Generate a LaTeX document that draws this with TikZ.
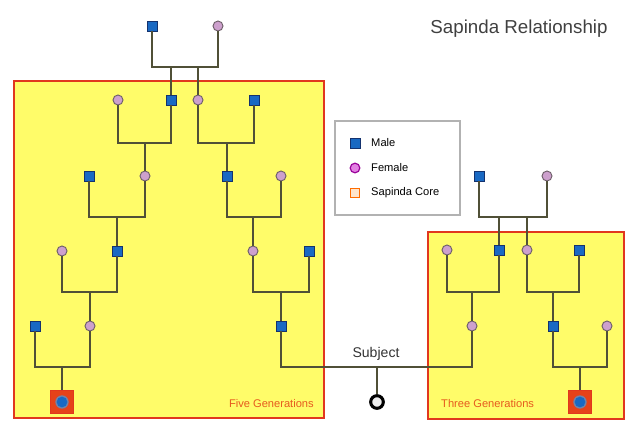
\documentclass[tikz,border=0pt]{standalone}
\usepackage{fontspec}
\setmainfont{Liberation Sans}
\usepackage{xcolor}
\usetikzlibrary{positioning}
\definecolor{boxyellow}{RGB}{255,252,105}
\definecolor{boxred}{RGB}{225,55,30}
\definecolor{maleblue}{RGB}{25,105,195}
\definecolor{maleedge}{RGB}{20,50,110}
\definecolor{femalepink}{RGB}{205,160,205}
\definecolor{femaleedge}{RGB}{110,95,105}
\definecolor{linkgray}{RGB}{80,80,55}
\definecolor{genorange}{RGB}{230,90,30}

\begin{document}
\begin{tikzpicture}[
    x=0.03cm, y=-0.03cm,
    male/.style={rectangle, draw=maleedge, fill=maleblue, line width=0.5pt, minimum size=0.29cm, inner sep=0pt},
    female/.style={circle, draw=femaleedge, fill=femalepink, line width=0.8pt, minimum size=0.3cm, inner sep=0pt},
    core/.style={rectangle, draw=boxred, fill=boxred!85!orange, line width=0.8pt, minimum size=0.68cm, inner sep=0pt,
                 path picture={\fill[maleedge!60] (path picture bounding box.center) circle (0.2cm);
                               \fill[maleblue] (path picture bounding box.center) circle (0.16cm);}},
    subject/.style={circle, draw=black, fill=gray!15, line width=2.6pt, minimum size=0.38cm, inner sep=0pt},
    gen/.style={rectangle, draw=boxred, fill=boxyellow, line width=1.6pt},
    genlabel/.style={font=\fontsize{9.5}{11}\selectfont, text=genorange, inner sep=0pt},
    keytext/.style={font=\fontsize{9.5}{11}\selectfont, anchor=west, inner sep=0pt},
    link/.style={draw=linkgray, line width=1pt}
]
\useasboundingbox (0,0) rectangle (633,424);

% generation boxes
\draw[gen] (14,81) rectangle (324,418);
\draw[gen] (428,232) rectangle (624,419);

% title
\node[font=\fontsize{16}{19}\selectfont, text=black!75] (title) at (519,29) {Sapinda Relationship};

% legend
\draw[draw=black!30, line width=1pt, fill=white] (335,121) rectangle (460,215);
\node[male] (keymale) at (355,143) {};
\node[circle, draw=violet!80!magenta, fill=violet!45!magenta!50, line width=1pt, minimum size=0.29cm, inner sep=0pt,
      below=0.75cm of keymale.center, anchor=center] (keyfemale) {};
\node[rectangle, draw=orange!85!red, fill=orange!20, line width=1pt, minimum size=0.29cm, inner sep=0pt,
      below=0.75cm of keyfemale.center, anchor=center] (keycore) {};
\node[keytext] at (371,143) (keymaletxt) {Male};
\node[keytext] at (371,168) (keyfemaletxt) {Female};
\node[keytext] at (371,193) (keycoretxt) {Sapinda Core};

% left family, five generations
\node[male] (Ltm) at (152,26) {};
\node[female] (Ltf) at (218,26) {};
\node[female] (L1a) at (118,100) {};
\node[male] (L1b) at (171,100) {};
\node[female] (L1c) at (198,100) {};
\node[male] (L1d) at (254,100) {};
\node[male] (L2a) at (89,176) {};
\node[female] (L2b) at (145,176) {};
\node[male] (L2c) at (227,176) {};
\node[female] (L2d) at (281,176) {};
\node[female] (L3a) at (62,251) {};
\node[male] (L3b) at (117,251) {};
\node[female] (L3c) at (253,251) {};
\node[male] (L3d) at (309,251) {};
\node[male] (L4a) at (35,326) {};
\node[female] (L4b) at (90,326) {};
\node[male] (L4c) at (281,326) {};
\node[core] (Lcore) at (62,402) {};
\node[genlabel, anchor=east] (Lgen) at (314,404) {Five Generations};

% right family, three generations
\node[male] (Rtm) at (479,176) {};
\node[female] (Rtf) at (547,176) {};
\node[female] (R1a) at (447,250) {};
\node[male] (R1b) at (499,250) {};
\node[female] (R1c) at (527,250) {};
\node[male] (R1d) at (579,250) {};
\node[female] (R2a) at (472,326) {};
\node[male] (R2b) at (553,326) {};
\node[female] (R2c) at (607,326) {};
\node[core] (Rcore) at (580,402) {};
\node[genlabel, anchor=west] (Rgen) at (441,404) {Three Generations};

% subject
\node[subject] (subj) at (377,402) {};
\node[font=\fontsize{12}{14}\selectfont, text=black!80, inner sep=0pt] (subjtxt) at (376,354) {Subject};

% junctions
\coordinate (jLt1) at (171,67);
\coordinate (jLt2) at (198,67);
\coordinate (jL1a) at (145,143);
\coordinate (jL1b) at (227,143);
\coordinate (jL2a) at (117,217);
\coordinate (jL2b) at (253,217);
\coordinate (jL3a) at (90,292);
\coordinate (jL3b) at (281,292);
\coordinate (jL4) at (62,367);
\coordinate (jRt1) at (499,217);
\coordinate (jRt2) at (527,217);
\coordinate (jR1a) at (472,292);
\coordinate (jR1b) at (553,292);
\coordinate (jR2) at (580,367);
\coordinate (jsub) at (377,367);

% connectors
\draw[link] (Ltm) |- (jLt1) -- (jLt2) -| (Ltf);
\draw[link] (jLt1) -- (L1b);
\draw[link] (jLt2) -- (L1c);
\draw[link] (L1a) |- (jL1a) -| (L1b);
\draw[link] (jL1a) -- (L2b);
\draw[link] (L1c) |- (jL1b) -| (L1d);
\draw[link] (jL1b) -- (L2c);
\draw[link] (L2a) |- (jL2a) -| (L2b);
\draw[link] (jL2a) -- (L3b);
\draw[link] (L2c) |- (jL2b) -| (L2d);
\draw[link] (jL2b) -- (L3c);
\draw[link] (L3a) |- (jL3a) -| (L3b);
\draw[link] (jL3a) -- (L4b);
\draw[link] (L3c) |- (jL3b) -| (L3d);
\draw[link] (jL3b) -- (L4c);
\draw[link] (L4a) |- (jL4) -| (L4b);
\draw[link] (jL4) -- (Lcore);

\draw[link] (Rtm) |- (jRt1) -- (jRt2) -| (Rtf);
\draw[link] (jRt1) -- (R1b);
\draw[link] (jRt2) -- (R1c);
\draw[link] (R1a) |- (jR1a) -| (R1b);
\draw[link] (jR1a) -- (R2a);
\draw[link] (R1c) |- (jR1b) -| (R1d);
\draw[link] (jR1b) -- (R2b);
\draw[link] (R2b) |- (jR2) -| (R2c);
\draw[link] (jR2) -- (Rcore);

\draw[link] (L4c) |- (jsub) -| (R2a);
\draw[link] (jsub) -- (subj);
\end{tikzpicture}
\end{document}
